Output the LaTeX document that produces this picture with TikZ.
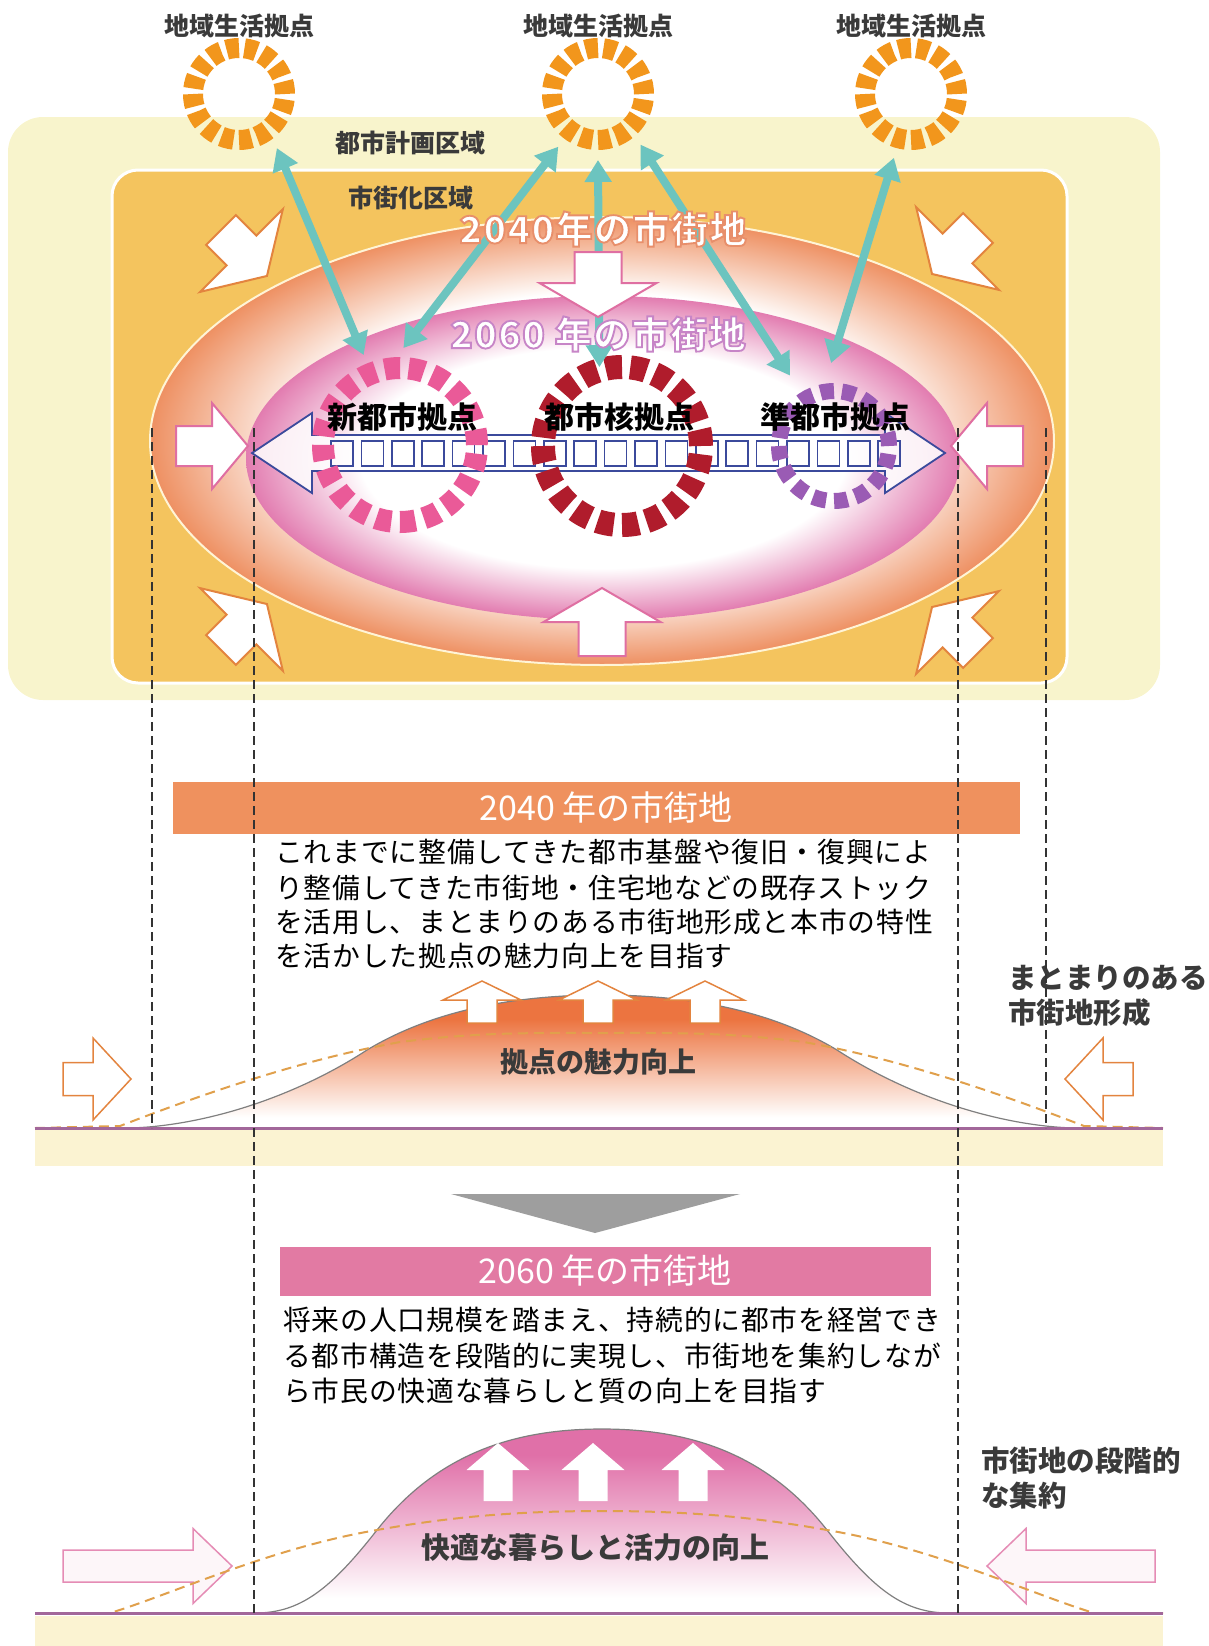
\documentclass[tikz,border=0pt]{standalone}
\usepackage{fontspec}
\setmainfont{Noto Sans CJK JP}
\newfontfamily\bodyjp{Noto Sans CJK JP}[LetterSpace=3]
\newfontfamily\rimfont{Noto Sans CJK JP}[FakeBold=5, LetterSpace=4]
\usetikzlibrary{arrows.meta}

\definecolor{planyellow}{HTML}{F8F4CC}
\definecolor{urbangold}{HTML}{F4C45E}
\definecolor{cream}{HTML}{FFF4D6}
\definecolor{ell2040}{HTML}{EE9062}
\definecolor{ell2060}{HTML}{E27CB0}
\definecolor{localorange}{HTML}{F2961C}
\definecolor{newpink}{HTML}{EA5A98}
\definecolor{corered}{HTML}{B01C2C}
\definecolor{subpurple}{HTML}{9A5BB4}
\definecolor{linkteal}{HTML}{6CC4BF}
\definecolor{roadblue}{HTML}{3B4A9C}
\definecolor{arrorange}{HTML}{E3843F}
\definecolor{arrpink}{HTML}{DF6FA2}
\definecolor{bar2040}{HTML}{EF915E}
\definecolor{bar2060}{HTML}{E27AA3}
\definecolor{top2040}{HTML}{EC7440}
\definecolor{top2060}{HTML}{E070A8}
\definecolor{hillgray}{HTML}{7F7F7F}
\definecolor{trendorange}{HTML}{E0A04C}
\definecolor{groundpurple}{HTML}{A2679A}
\definecolor{bandyellow}{HTML}{FBF3D2}
\definecolor{arrowgray}{HTML}{9E9E9E}
\definecolor{labelgray}{HTML}{3A3A3A}

% the shading square is 100bp, the path's box covers 25bp..75bp of it
\pgfdeclareradialshading{glow2040}{\pgfpointorigin}{color(0bp)=(white); color(16.5bp)=(white); color(25bp)=(ell2040); color(50bp)=(ell2040)}
\pgfdeclareradialshading{glow2060}{\pgfpointorigin}{color(0bp)=(white); color(17bp)=(white); color(25bp)=(ell2060); color(50bp)=(ell2060)}
\pgfdeclareverticalshading{hill2040}{100bp}{color(0bp)=(white); color(29bp)=(white); color(66bp)=(top2040); color(100bp)=(top2040)}
\pgfdeclareverticalshading{hill2060}{100bp}{color(0bp)=(white); color(29bp)=(white); color(68bp)=(top2060); color(100bp)=(top2060)}

% stroke colour for the rimmed labels
\newcommand{\rimcolor}[3]{\special{pdf:literal #1 #2 #3 RG}}

\tikzset{
  pics/fatarrow/.style n args={4}{code={
    \path[pic actions] (0,-#2/2) -- ({#1-#4},-#2/2) -- ({#1-#4},-#3/2) -- (#1,0)
      -- ({#1-#4},#3/2) -- ({#1-#4},#2/2) -- (0,#2/2) -- cycle;}},
  hublink/.style={draw=linkteal, line width=8, arrows={Triangle[width=26pt,length=22pt]-Triangle[width=26pt,length=22pt]}},
  hubtext/.style={font=\bfseries\fontsize{30}{36}\selectfont, text=black, inner sep=0},
  areatext/.style={font=\bfseries\fontsize{25}{30}\selectfont, text=labelgray, inner sep=0},
  sidetext/.style={font=\bfseries\fontsize{28.5}{34}\selectfont, text=labelgray, inner sep=0, anchor=west},
  bodytext/.style={font=\bodyjp\fontsize{27.8}{32}\selectfont, text=black, inner sep=0, anchor=west},
  bartext/.style={font=\fontsize{34}{40}\selectfont, text=white, inner sep=0},
  rimtext/.style={font=\rimfont\bfseries\fontsize{37}{44}\selectfont, text=white, inner sep=0},
  guide/.style={draw=black!80, line width=1.6, dash pattern=on 9pt off 5pt},
  trend/.style={draw=trendorange, line width=2, dash pattern=on 10pt off 6pt},
}

\begin{document}
\begin{tikzpicture}[x=1pt,y=-1pt]
\useasboundingbox (0,0) rectangle (1209,1646);

% planning area and urbanisation area
\fill[planyellow, rounded corners=35] (8,117) rectangle (1160,700);
\fill[urbangold, rounded corners=26] (112,170) rectangle (1067,683);
\draw[white, line width=3, rounded corners=26] (112,170) rectangle (1067,683);

% urban area 2040 / 2060
\shade[shading=glow2040] (602,441) ellipse (452 and 224);
\draw[cream, line width=2] (602,441) ellipse (452 and 224);
\shade[shading=glow2060] (603,458) ellipse (357 and 162);

% axis between the hubs
\draw[roadblue, line width=1.8, fill=white, fill opacity=0.85] (252,453) -- (312,413) -- (312,435) -- (885,435)
  -- (885,413) -- (945,453) -- (885,493) -- (885,471) -- (312,471) -- (312,493) -- cycle;
\foreach \i in {0,...,18}
  \draw[roadblue, line width=1.6] ({331+30.4*\i},441) rectangle +(22,25);

% hubs
\node[circle, draw=newpink, line width=22, dash pattern=on 15.5pt off 8.69pt, minimum size=154, inner sep=0, outer sep=20] (newhub) at (400,445) {};
\node[circle, draw=corered, line width=24, dash pattern=on 16.5pt off 8.32pt, minimum size=158, inner sep=0, outer sep=3] (corehub) at (622,446) {};
\node[circle, draw=subpurple, line width=16, dash pattern=on 13.6pt off 8pt, minimum size=110, inner sep=0, outer sep=28] (subhub) at (834,446) {};
\node[circle, draw=localorange, line width=20, dash pattern=on 12.6pt off 5.46pt, minimum size=92, inner sep=0, outer sep=20] (locA) at (239,94) {};
\node[circle, draw=localorange, line width=20, dash pattern=on 12.6pt off 5.46pt, minimum size=92, inner sep=0, outer sep=20] (locB) at (598,94) {};
\node[circle, draw=localorange, line width=20, dash pattern=on 12.6pt off 5.46pt, minimum size=92, inner sep=0, outer sep=20] (locC) at (911,94) {};

\draw[hublink] (locA.-55) -- (newhub.112);
\draw[hublink] (locB.-127) -- (newhub.88);
\draw[hublink] (locB.-90) -- (corehub.106);
\draw[hublink] (locB.-50) -- (subhub.122);
\draw[hublink] (locC.-105) -- (subhub.92);

% arrows towards the centre
\pic[draw=arrorange, fill=white, line width=2, rotate=-45] at (221,230) {fatarrow={65}{42}{117}{36}};
\pic[draw=arrorange, fill=white, line width=2, rotate=-135] at (978,228) {fatarrow={65}{42}{117}{36}};
\pic[draw=arrorange, fill=white, line width=2, rotate=45] at (221,650) {fatarrow={65}{42}{117}{36}};
\pic[draw=arrorange, fill=white, line width=2, rotate=135] at (978,653) {fatarrow={65}{42}{117}{36}};
\pic[draw=arrpink, fill=white, line width=2, rotate=-90] at (598,252) {fatarrow={65}{47}{117}{34}};
\pic[draw=arrpink, fill=white, line width=2, rotate=90] at (602,656) {fatarrow={68}{47}{117}{34}};
\pic[draw=arrpink, fill=white, line width=2] at (176,446) {fatarrow={72}{40}{86}{36}};
\pic[draw=arrpink, fill=white, line width=2, rotate=180] at (1023,446) {fatarrow={72}{40}{86}{36}};

% labels
\node[areatext] (locAtxt) at (239,26) {地域生活拠点};
\node[areatext] (locBtxt) at (598,26) {地域生活拠点};
\node[areatext] (locCtxt) at (911,26) {地域生活拠点};
\node[areatext] (plantxt) at (410,143) {都市計画区域};
\node[areatext] (urbtxt) at (411,198) {市街化区域};
\node[rimtext] (ell40txt) at (603,229) {\rimcolor{0.91}{0.56}{0.42}2040年の市街地};
\node[rimtext] (ell60txt) at (598,334) {\rimcolor{0.78}{0.52}{0.78}2060 年の市街地};
\node[hubtext] (newtxt) at (402,417) {新都市拠点};
\node[hubtext] (coretxt) at (619,417) {都市核拠点};
\node[hubtext] (subtxt) at (835,417) {準都市拠点};

% 2040 profile
\node[fill=bar2040, minimum width=847, minimum height=52, inner sep=0] (bar40) at (596.5,808) {};
\node[bartext] (bar40txt) at (606,808) {2040 年の市街地};
\node[bodytext] (txtA1) at (275,852) {これまでに整備してきた都市基盤や復旧・復興によ};
\node[bodytext] (txtA2) at (275,888) {り整備してきた市街地・住宅地などの既存ストック};
\node[bodytext] (txtA3) at (275,922) {を活用し、まとまりのある市街地形成と本市の特性};
\node[bodytext] (txtA4) at (275,956) {を活かした拠点の魅力向上を目指す};
\node[sidetext] (sideA1) at (1008,978) {まとまりのある};
\node[sidetext] (sideA2) at (1008,1013) {市街地形成};

\fill[bandyellow] (35,1130) rectangle (1163,1166);
\shadedraw[shading=hill2040, draw=hillgray, line width=1.2] (130,1128) .. controls (200,1126) and (290,1100) .. (367,1050)
  .. controls (430,1012) and (510,995) .. (602,995) .. controls (694,995) and (774,1012) .. (837,1050)
  .. controls (914,1100) and (1004,1126) .. (1074,1128) -- cycle;
\foreach \ax in {482,598,705}
  \pic[draw=arrorange, fill=white, line width=1.5, rotate=90] at (\ax,1023) {fatarrow={42}{30}{78}{19}};
\pic[draw=arrorange, fill=white, line width=1.5] at (63,1079) {fatarrow={68}{33}{82}{38}};
\pic[draw=arrorange, fill=white, line width=1.5, rotate=180] at (1133,1079) {fatarrow={68}{33}{82}{38}};
\draw[trend] (35,1128) -- (120,1126) .. controls (200,1095) and (300,1060) .. (400,1042)
  .. controls (480,1032) and (530,1033) .. (602,1033) .. controls (674,1033) and (724,1032) .. (804,1042)
  .. controls (904,1060) and (1004,1095) .. (1084,1126) -- (1163,1128);
\draw[groundpurple, line width=3] (35,1128) -- (1163,1128);
\node[areatext, font=\bfseries\fontsize{28}{32}\selectfont] (hillA) at (598,1062) {拠点の魅力向上};

% step to 2060
\fill[arrowgray] (451,1194) -- (740,1194) -- (595,1233) -- cycle;

% 2060 profile
\node[fill=bar2060, minimum width=651, minimum height=49, inner sep=0] (bar60) at (605.5,1271.5) {};
\node[bartext] (bar60txt) at (605,1271) {2060 年の市街地};
\node[bodytext] (txtB1) at (283,1320) {将来の人口規模を踏まえ、持続的に都市を経営でき};
\node[bodytext] (txtB2) at (283,1356) {る都市構造を段階的に実現し、市街地を集約しなが};
\node[bodytext] (txtB3) at (283,1391) {ら市民の快適な暮らしと質の向上を目指す};
\node[sidetext] (sideB1) at (981,1461) {市街地の段階的};
\node[sidetext] (sideB2) at (981,1496) {な集約};

\fill[bandyellow] (35,1616) rectangle (1163,1646);
\shadedraw[shading=hill2060, draw=hillgray, line width=1.2] (255,1613) .. controls (300,1613) and (330,1590) .. (377,1530)
  .. controls (440,1450) and (520,1429) .. (602,1429) .. controls (684,1429) and (764,1450) .. (827,1530)
  .. controls (874,1590) and (904,1613) .. (949,1613) -- cycle;
\foreach \ax in {498,593,693}
  \pic[fill=white, rotate=90] at (\ax,1501) {fatarrow={58}{29}{63}{27}};
\pic[draw=arrpink!80, fill=arrpink!6, line width=1.5] at (63,1566) {fatarrow={169}{32}{75}{39}};
\pic[draw=arrpink!80, fill=arrpink!6, line width=1.5, rotate=180] at (1155,1566) {fatarrow={168}{32}{75}{39}};
\draw[trend] (35,1613) -- (110,1613) .. controls (170,1595) and (270,1548) .. (377,1530)
  .. controls (460,1515) and (530,1511) .. (602,1511) .. controls (674,1511) and (744,1515) .. (827,1530)
  .. controls (934,1548) and (1034,1595) .. (1094,1613) -- (1163,1613);
\draw[groundpurple, line width=3] (35,1613) -- (1163,1613);
\node[areatext, font=\bfseries\fontsize{29}{34}\selectfont] (hillB) at (595,1548) {快適な暮らしと活力の向上};

% guide lines
\draw[guide] (152,428) -- (152,1128);
\draw[guide] (254,428) -- (254,1613);
\draw[guide] (958,428) -- (958,1613);
\draw[guide] (1046,428) -- (1046,1128);
\end{tikzpicture}
\end{document}
